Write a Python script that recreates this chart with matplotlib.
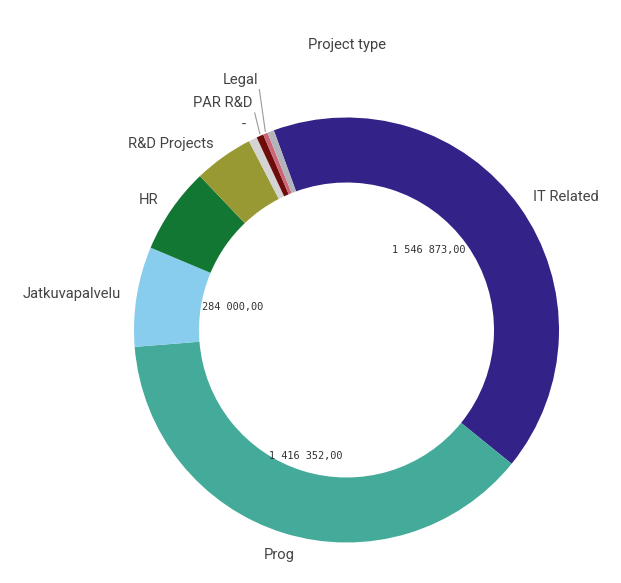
import numpy as np
import matplotlib.pyplot as plt

# Project type totals (clockwise from the top)
categories = ["IT Related", "Prog", "Jatkuvapalvelu", "HR", "R&D Projects",
              "-", "PAR R&D", "Legal", "Others"]
values = [1546873, 1416352, 284000, 245000, 169000, 24000, 20000, 13000, 19000]
colors = ["#332288", "#44aa99", "#88ccee", "#117733", "#999933",
          "#d4d4d4", "#6e0b0b", "#cc6677", "#b3b3bb"]
value_labels = {"IT Related": "1 546 873,00", "Prog": "1 416 352,00",
                "Jatkuvapalvelu": "284 000,00"}
leader_labels = ["PAR R&D", "Legal"]

W, H = 621, 583
CX, CY = 346.5, H - 330
R_OUT, R_IN = 212.5, 147.5
TXT = "#444444"

fig = plt.figure(figsize=(W / 100, H / 100), dpi=100)
ax = fig.add_axes([0, 0, 1, 1])

wedges, _ = ax.pie(values, colors=colors, startangle=110, counterclock=False,
                   center=(CX, CY), radius=R_OUT,
                   wedgeprops=dict(width=R_OUT - R_IN, linewidth=0))
ax.set_xlim(0, W)
ax.set_ylim(0, H)
ax.set_aspect("equal")
ax.axis("off")

lbl_font = dict(family=["Roboto", "DejaVu Sans"], fontsize=10.6, color=TXT)

stack = 0
for w, name in zip(wedges, categories):
    mid = np.deg2rad((w.theta1 + w.theta2) / 2)
    dx, dy = np.cos(mid), np.sin(mid)

    # outer category label
    if name in leader_labels:
        stack += 1
        px, py = CX + R_OUT * dx, CY + R_OUT * dy
        ax.annotate(name, xy=(px, py + 2),
                    xytext=(px - 7, py + 12 + 21 * stack),
                    ha="right", va="center",
                    arrowprops=dict(arrowstyle="-", color="#9a9a9a", lw=0.8,
                                    shrinkA=0, shrinkB=0, relpos=(1.0, 0.3)),
                    **lbl_font)
    elif name != "Others":
        r = R_OUT + 16
        ha = "left" if dx > 0.3 else ("right" if dx < -0.3 else "center")
        va = "top" if dy < -0.8 else "center"
        ax.text(CX + r * dx, CY + r * dy, name, ha=ha, va=va, **lbl_font)

    # value label just inside the inner ring
    if name in value_labels:
        ha = "right" if dx > 0.3 else ("left" if dx < -0.3 else "center")
        va = "top" if dy > 0.3 else ("bottom" if dy < -0.3 else "center")
        r = R_IN - 10 if ha == "center" else R_IN - 1
        ax.text(CX + r * dx, CY + r * dy, value_labels[name], ha=ha, va=va,
                family="DejaVu Sans Mono", fontsize=7.4, color="#333333")

ax.text(CX, H - 45, "Project type", ha="center", va="center",
        family=["Roboto", "DejaVu Sans"], fontsize=10.6, color="#404040")

fig.savefig("out.png", dpi=100)
